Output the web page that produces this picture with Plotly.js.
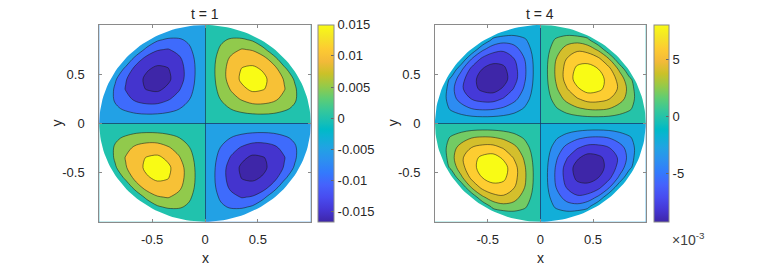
<!DOCTYPE html>
<html><head><meta charset="utf-8">
<script src="https://cdn.plot.ly/plotly-3.0.1.min.js"></script>
<style>html,body{margin:0;padding:0;background:#fff}#chart{width:763px;height:268px}</style>
</head><body><div id="chart"></div>
<script>
// |x| or |y| grid positions of one quadrant: the axis (0), then cell centres; 1.05 lies outside the unit disk
const gridAbs = [0, 0.05, 0.15, 0.25, 0.35, 0.45, 0.55, 0.65, 0.75, 0.85, 0.95, 1.05];

// t = 1 : values in the x>0, y>0 quadrant, in units of 1e-3 (rows = y, cols = x); null = outside the disk
const quadT1 = [
  [0, 0, 0, 0, 0, 0, 0, 0, 0, 0, 0, 0],
  [0, 0.39, 1.14, 1.80, 2.32, 2.65, 2.73, 2.55, 2.08, 1.50, 0.50, null],
  [0, 1.14, 3.33, 5.26, 6.76, 7.69, 7.91, 7.32, 5.87, 4.10, 1.20, null],
  [0, 1.80, 5.26, 8.29, 10.61, 12.30, 12.21, 11.11, 8.62, 5.70, 0.90, null],
  [0, 2.32, 6.76, 10.61, 14.00, 16.00, 15.30, 13.32, 10.30, 5.80, null, null],
  [0, 2.65, 7.69, 12.30, 16.00, 16.58, 15.90, 13.45, 9.60, 4.30, null, null],
  [0, 2.73, 7.91, 12.21, 15.30, 15.90, 14.60, 12.00, 6.60, null, null, null],
  [0, 2.55, 7.32, 11.11, 13.32, 13.45, 12.00, 7.80, 0.80, null, null, null],
  [0, 2.08, 5.87, 8.62, 10.30, 9.60, 6.60, 0.80, null, null, null, null],
  [0, 1.50, 4.10, 5.70, 5.80, 4.30, null, null, null, null, null, null],
  [0, 0.50, 1.20, 0.90, null, null, null, null, null, null, null, null],
  [0, null, null, null, null, null, null, null, null, null, null, null]
];

// t = 4 : same quadrant, units of 1e-3
const quadT4 = [
  [0, 0, 0, 0, 0, 0, 0, 0, 0, 0, 0, 0],
  [0, 0.21, 0.63, 0.99, 1.28, 1.46, 1.50, 1.41, 1.15, 0.83, 0.28, null],
  [0, 0.63, 1.83, 2.90, 3.72, 4.24, 4.36, 4.03, 3.23, 2.26, 0.66, null],
  [0, 0.99, 2.90, 4.57, 5.85, 6.78, 6.73, 6.12, 4.75, 3.14, 0.50, null],
  [0, 1.28, 3.72, 5.85, 7.71, 8.82, 8.43, 7.34, 5.68, 3.20, null, null],
  [0, 1.46, 4.24, 6.78, 8.82, 9.14, 8.76, 7.41, 5.29, 2.37, null, null],
  [0, 1.50, 4.36, 6.73, 8.43, 8.76, 8.04, 6.61, 3.64, null, null, null],
  [0, 1.41, 4.03, 6.12, 7.34, 7.41, 6.61, 4.30, 0.44, null, null, null],
  [0, 1.15, 3.23, 4.75, 5.68, 5.29, 3.64, 0.44, null, null, null, null],
  [0, 0.83, 2.26, 3.14, 3.20, 2.37, null, null, null, null, null, null],
  [0, 0.28, 0.66, 0.50, null, null, null, null, null, null, null, null],
  [0, null, null, null, null, null, null, null, null, null, null, null]
];

const levelsT1 = [-0.015, -0.01, -0.005, 0, 0.005, 0.01, 0.015];
const levelsT4 = [-0.008, -0.006, -0.004, -0.002, 0, 0.002, 0.004, 0.006, 0.008];
const climT1 = [-0.0167, 0.015];
const climT4 = [-0.0092, 0.008];
const cbTickValsT1 = [-0.015, -0.01, -0.005, 0, 0.005, 0.01, 0.015];
const cbTickTextT1 = ['-0.015', '-0.01', '-0.005', '0', '0.005', '0.01', '0.015'];
const cbTickValsT4 = [-0.005, 0, 0.005];
const cbTickTextT4 = ['-5', '0', '5'];
const axisTickVals = [-0.5, 0, 0.5];
const axisTickText = ['-0.5', '0', '0.5'];
const panelTitles = ['t = 1', 't = 4'];

// parula (MATLAB) key colours
const parula = [
  [0, [0.2422,0.1504,0.6603]], [16, [0.2704,0.2138,0.8346]], [32, [0.2813,0.2985,0.9397]],
  [48, [0.2710,0.3860,0.9898]], [64, [0.2006,0.4803,0.9906]], [80, [0.1716,0.5655,0.9393]],
  [96, [0.1288,0.6408,0.8910]], [112, [0.0433,0.7039,0.8242]], [120, [0.0018,0.7275,0.7752]],
  [128, [0.0770,0.7468,0.7224]], [144, [0.2061,0.7808,0.6065]], [160, [0.3671,0.8021,0.4563]],
  [176, [0.5886,0.7913,0.2833]], [192, [0.7945,0.7554,0.1570]], [208, [0.9523,0.7284,0.2237]],
  [224, [0.9938,0.7974,0.1974]], [240, [0.9601,0.8963,0.1507]], [255, [0.9769,0.9839,0.0805]]
];
function rgb(c){ return 'rgb(' + c.map(v => Math.round(v*255)).join(',') + ')'; }
function parulaAt(t){
  t = Math.max(0, Math.min(1, t)) * 255;
  for (let i = 1; i < parula.length; i++) {
    if (t <= parula[i][0]) {
      const a = parula[i-1], b = parula[i];
      const f = (t - a[0]) / (b[0] - a[0]);
      return a[1].map((v, k) => v + f * (b[1][k] - v));
    }
  }
  return parula[parula.length-1][1];
}
const parulaScale = parula.map(p => [p[0]/255, rgb(p[1])]);

const TINY = 1e-6; // keeps the sign of a quadrant where the table gives 0 or nothing
// one quadrant (sx, sy) of the field, with ascending coordinates
function quadrantTrace(quad, sx, sy){
  const n = gridAbs.length;
  const idx = [...Array(n).keys()];
  const ix = sx > 0 ? idx : idx.slice().reverse();
  const iy = sy > 0 ? idx : idx.slice().reverse();
  const x = ix.map(i => sx * gridAbs[i]);
  const y = iy.map(i => sy * gridAbs[i]);
  const z = iy.map(r => ix.map(c => {
    const v = quad[r][c];
    return sx * sy * Math.max(v === null ? 0 : v, TINY) * 1e-3;
  }));
  return {x, y, z};
}
// step colourscale reproducing MATLAB contourf band colours
function bandScale(levels, clim){
  const m = levels.length;
  const cols = [parulaAt(0)].concat(levels.map(L => parulaAt((L - clim[0])/(clim[1]-clim[0]))));
  const sc = [];
  cols.forEach((c, k) => {
    sc.push([Math.max(0, (k-0.5)/m), rgb(c)]);
    sc.push([Math.min(1, (k+0.5)/m), rgb(c)]);
  });
  return sc;
}
// white mask outside the unit disk (square with circular hole)
const maskX = [], maskY = [];
for (let i = 0; i <= 180; i++) { const a = 2*Math.PI*i/180; maskX.push(Math.cos(a)); maskY.push(Math.sin(a)); }
[[1.3,0],[1.3,-1.3],[-1.3,-1.3],[-1.3,1.3],[1.3,1.3],[1.3,0],[1,0]].forEach(p => { maskX.push(p[0]); maskY.push(p[1]); });

const W = 763, H = 268;
const yTop = 25, yBot = 221.7;
const panels = [
  {x0: 99.3, x1: 310.7, cb: 317.5, cbw: 16, quad: quadT1, levels: levelsT1, clim: climT1, tv: cbTickValsT1, tt: cbTickTextT1},
  {x0: 435, x1: 645.7, cb: 654.3, cbw: 15, quad: quadT4, levels: levelsT4, clim: climT4, tv: cbTickValsT4, tt: cbTickTextT4}
];
const FONT = 'Liberation Sans, Arial, Helvetica, sans-serif';
const TXT = '#262626';
const AX = '#8a8a8a';
const CLINE = 'rgba(25,25,25,0.9)';
const ZLINE = 'rgba(20,60,90,0.9)';

const data = [];
const layout = {
  width: W, height: H, margin: {l:0, r:0, t:0, b:0},
  paper_bgcolor: '#fff', plot_bgcolor: '#fff', showlegend: false,
  font: {family: FONT, size: 13, color: TXT},
  annotations: []
};
panels.forEach((p, i) => {
  const xa = i === 0 ? 'x' : 'x2', ya = i === 0 ? 'y' : 'y2';
  const cs = p.levels[1] - p.levels[0];
  const scale = bandScale(p.levels, p.clim);
  [[1,1],[-1,1],[-1,-1],[1,-1]].forEach(s => {
    const q = quadrantTrace(p.quad, s[0], s[1]);
    data.push({
      type: 'contour', x: q.x, y: q.y, z: q.z, xaxis: xa, yaxis: ya,
      autocontour: false,
      contours: {start: p.levels[0], end: p.levels[p.levels.length-1], size: cs, coloring: 'fill', showlines: true},
      zauto: false, zmin: p.levels[0] - cs/2, zmax: p.levels[p.levels.length-1] + cs/2,
      colorscale: scale, showscale: false,
      line: {color: CLINE, width: 0.6, smoothing: 1},
      hoverinfo: 'skip'
    });
  });
  data.push({
    type: 'scatter', mode: 'lines', x: maskX, y: maskY, xaxis: xa, yaxis: ya,
    fill: 'toself', fillcolor: '#ffffff', line: {width: 0, color: 'rgba(0,0,0,0)'}, hoverinfo: 'skip'
  });
  data.push({
    type: 'scatter', mode: 'markers', x: [0, 0], y: [0, 0], xaxis: xa, yaxis: ya, hoverinfo: 'skip',
    marker: {size: 1, opacity: 0, color: p.clim, cmin: p.clim[0], cmax: p.clim[1], colorscale: parulaScale, showscale: true,
      colorbar: {x: p.cb / W, xanchor: 'left', xpad: 0, ypad: 0, thickness: p.cbw, thicknessmode: 'pixels',
        len: (yBot - yTop) / H, lenmode: 'fraction', y: 1 - (yTop + yBot) / 2 / H, yanchor: 'middle',
        outlinecolor: AX, outlinewidth: 1, ticks: 'inside', ticklen: 3, tickcolor: '#666',
        tickvals: p.tv, ticktext: p.tt, tickfont: {family: FONT, size: 13, color: TXT}}}
  });
  // the zero contour (the two axes of the antisymmetric field) drawn as the axes' zero lines
  const common = {range: [-1, 1], showgrid: false, zeroline: true, zerolinecolor: ZLINE, zerolinewidth: 0.8,
    zerolinelayer: 'above traces', layer: 'above traces',
    showline: true, linecolor: AX, linewidth: 1,
    mirror: 'ticks', ticks: 'inside', ticklen: 3, tickcolor: AX, tickvals: axisTickVals, ticktext: axisTickText,
    tickfont: {family: FONT, size: 13, color: TXT}, fixedrange: true};
  layout[i === 0 ? 'xaxis' : 'xaxis2'] = Object.assign({}, common, {domain: [p.x0 / W, p.x1 / W], anchor: ya, ticklabelstandoff: 6});
  layout[i === 0 ? 'yaxis' : 'yaxis2'] = Object.assign({}, common, {domain: [1 - yBot / H, 1 - yTop / H], anchor: xa, ticklabelstandoff: 11});
  const cx = (p.x0 + p.x1) / 2 / W;
  layout.annotations.push({text: panelTitles[i], xref: 'paper', yref: 'paper', x: cx, y: 1 - 14 / H, showarrow: false, xanchor: 'center', yanchor: 'middle', font: {size: 14, color: TXT}});
  layout.annotations.push({text: 'x', xref: 'paper', yref: 'paper', x: cx, y: 1 - 258 / H, showarrow: false, xanchor: 'center', yanchor: 'middle', font: {size: 14, color: TXT}});
  layout.annotations.push({text: 'y', xref: 'paper', yref: 'paper', x: (p.x0 - 42) / W, y: 1 - 123.3 / H, showarrow: false, xanchor: 'center', yanchor: 'middle', textangle: -90, font: {size: 14, color: TXT}});
});
layout.annotations.push({text: '\u00d710<sup>-3</sup>', xref: 'paper', yref: 'paper', x: 670 / W, y: 1 - 239 / H, showarrow: false, xanchor: 'left', yanchor: 'middle', font: {size: 14, color: '#404040'}});

Plotly.newPlot('chart', data, layout, {staticPlot: true, displayModeBar: false});
</script></body></html>
